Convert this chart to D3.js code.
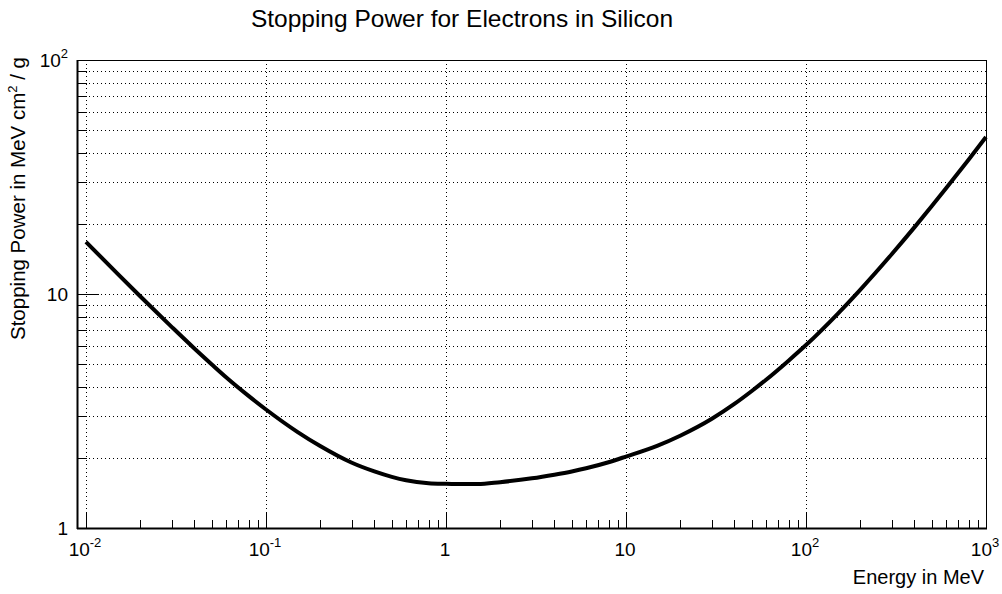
<html>

<head>
  <meta charset="utf8">
  <title>Stopping Power for Electrons in Silicon</title>
  <style>
    * {
      margin: 0;
      padding: 0;
    }
    body {
      background: #fff;
    }
    text {
      font-family: "Liberation Sans", Arial, Helvetica, sans-serif;
      fill: #000;
    }
  </style>
</head>

<body>
  <script src="https://cdn.jsdelivr.net/npm/d3@7/dist/d3.min.js"></script>
  <script>
    var w = 1002
    var h = 594

    // energy in MeV, total stopping power in MeV cm2/g
    var energy = [0.01, 0.015, 0.02, 0.03, 0.04, 0.05, 0.06, 0.08, 0.1, 0.15, 0.2, 0.3, 0.4, 0.5, 0.6, 0.8,
      1, 1.25, 1.5, 2, 3, 4, 5, 6, 8, 10, 15, 20, 30, 40, 50, 60, 80, 100, 150, 200, 300, 400, 500, 600, 800, 1000]
    var stopping = [16.7, 12.18, 9.78, 7.22, 5.85, 5.0, 4.41, 3.67, 3.21, 2.57, 2.24, 1.9, 1.745, 1.654, 1.6, 1.555,
      1.545, 1.54, 1.54, 1.57, 1.63, 1.69, 1.745, 1.8, 1.91, 2.02, 2.25, 2.48, 2.93, 3.39, 3.85, 4.3, 5.19, 6.05,
      8.23, 10.42, 14.82, 19.26, 23.76, 28.3, 37.5, 46.9]

    var xTicks = [0.01, 0.1, 1, 10, 100, 1000]
    var xTickBase = ['10', '10', '1', '10', '10', '10']
    var xTickExp = ['-2', '-1', '', '', '2', '3']
    var yTicks = [1, 10, 100]
    var yTickBase = ['1', '10', '10']
    var yTickExp = ['', '', '2']

    var data = energy.map((e, i) => ({ e: e, s: stopping[i] }))

    var fLeft = 77, fRight = 986, fTop = 60, fBottom = 528

    var xScale = d3.scaleLog().domain([Math.pow(10, -2.05), 1000]).range([fLeft, fRight])
    var yScale = d3.scaleLog().domain([1, 100]).range([fBottom, fTop])

    var svg = d3.select('body').append('svg').attr('width', w).attr('height', h)

    // minor positions
    var xMinor = [], yMinor = []
    for (var d = 0.01; d < 1000; d *= 10) {
      for (var k = 2; k <= 9; k++) xMinor.push(d * k)
    }
    for (var d = 1; d < 100; d *= 10) {
      for (var k = 2; k <= 9; k++) yMinor.push(d * k)
    }
    var yGrid = yMinor.concat(yTicks)

    // grid
    svg.append('g').selectAll('line')
      .data(xTicks)
      .enter()
      .append('line')
      .attr('x1', d => Math.round(xScale(d)) + 0.5)
      .attr('x2', d => Math.round(xScale(d)) + 0.5)
      .attr('y1', fTop)
      .attr('y2', fBottom)
      .attr('stroke', '#000')
      .attr('stroke-dasharray', '1,3')

    svg.append('g').selectAll('line')
      .data(yGrid)
      .enter()
      .append('line')
      .attr('x1', fLeft)
      .attr('x2', fRight)
      .attr('y1', d => Math.round(yScale(d)) + 0.5)
      .attr('y2', d => Math.round(yScale(d)) + 0.5)
      .attr('stroke', '#000')
      .attr('stroke-dasharray', '1,3')

    // frame
    svg.append('rect')
      .attr('x', fLeft + 0.5)
      .attr('y', fTop + 0.5)
      .attr('width', fRight - fLeft)
      .attr('height', fBottom - fTop)
      .attr('fill', 'none')
      .attr('stroke', '#000')
      .attr('stroke-width', 1)

    svg.append('line')
      .attr('x1', fLeft + 0.5).attr('x2', fLeft + 0.5)
      .attr('y1', fTop).attr('y2', fBottom + 1)
      .attr('stroke', '#000').attr('stroke-width', 2)
    svg.append('line')
      .attr('x1', fLeft).attr('x2', fRight + 1)
      .attr('y1', fBottom + 0.5).attr('y2', fBottom + 0.5)
      .attr('stroke', '#000').attr('stroke-width', 2)

    // x ticks
    svg.append('g').selectAll('line')
      .data(xTicks.map(d => ({ v: d, len: 15 })).concat(xMinor.map(d => ({ v: d, len: 8 }))))
      .enter()
      .append('line')
      .attr('x1', d => Math.round(xScale(d.v)) + 0.5)
      .attr('x2', d => Math.round(xScale(d.v)) + 0.5)
      .attr('y1', fBottom)
      .attr('y2', d => fBottom - d.len)
      .attr('stroke', '#000')

    // y ticks
    svg.append('g').selectAll('line')
      .data(yTicks.map(d => ({ v: d, len: 22 })).concat(yMinor.map(d => ({ v: d, len: 10 }))))
      .enter()
      .append('line')
      .attr('x1', fLeft)
      .attr('x2', d => fLeft + d.len)
      .attr('y1', d => Math.round(yScale(d.v)) + 0.5)
      .attr('y2', d => Math.round(yScale(d.v)) + 0.5)
      .attr('stroke', '#000')

    // x tick labels
    var xl = svg.append('g').selectAll('text')
      .data(xTicks)
      .enter()
      .append('text')
      .attr('x', d => xScale(d) - 1)
      .attr('y', 556)
      .attr('text-anchor', 'middle')
      .attr('font-size', '19px')
    xl.append('tspan').text((d, i) => xTickBase[i])
    xl.append('tspan')
      .attr('dy', -9)
      .attr('font-size', '13px')
      .text((d, i) => xTickExp[i])

    // y tick labels
    var yl = svg.append('g').selectAll('text')
      .data(yTicks)
      .enter()
      .append('text')
      .attr('x', 68)
      .attr('y', d => yScale(d) + 7)
      .attr('text-anchor', 'end')
      .attr('font-size', '19px')
    yl.append('tspan').text((d, i) => yTickBase[i])
    yl.append('tspan')
      .attr('dy', -9)
      .attr('font-size', '13px')
      .text((d, i) => yTickExp[i])

    // curve
    var line = d3.line()
      .x(d => xScale(d.e))
      .y(d => yScale(d.s))
      .curve(d3.curveMonotoneX)

    svg.append('path')
      .datum(data)
      .attr('d', line)
      .attr('fill', 'none')
      .attr('stroke', '#000')
      .attr('stroke-width', 4)
      .attr('stroke-linejoin', 'round')

    // titles
    svg.append('text')
      .attr('x', 462)
      .attr('y', 27)
      .attr('text-anchor', 'middle')
      .attr('font-size', '24.5px')
      .text('Stopping Power for Electrons in Silicon')

    svg.append('text')
      .attr('x', fRight - 2)
      .attr('y', 584)
      .attr('text-anchor', 'end')
      .attr('font-size', '20px')
      .text('Energy in MeV')

    var yt = svg.append('text')
      .attr('transform', 'translate(25,' + (fTop - 3) + ') rotate(-90)')
      .attr('text-anchor', 'end')
      .attr('font-size', '20.5px')
    yt.append('tspan').text('Stopping Power in MeV cm')
    yt.append('tspan').attr('dy', -8).attr('font-size', '13px').text('2')
    yt.append('tspan').attr('dy', 8).text(' / g')
  </script>
</body>

</html>
